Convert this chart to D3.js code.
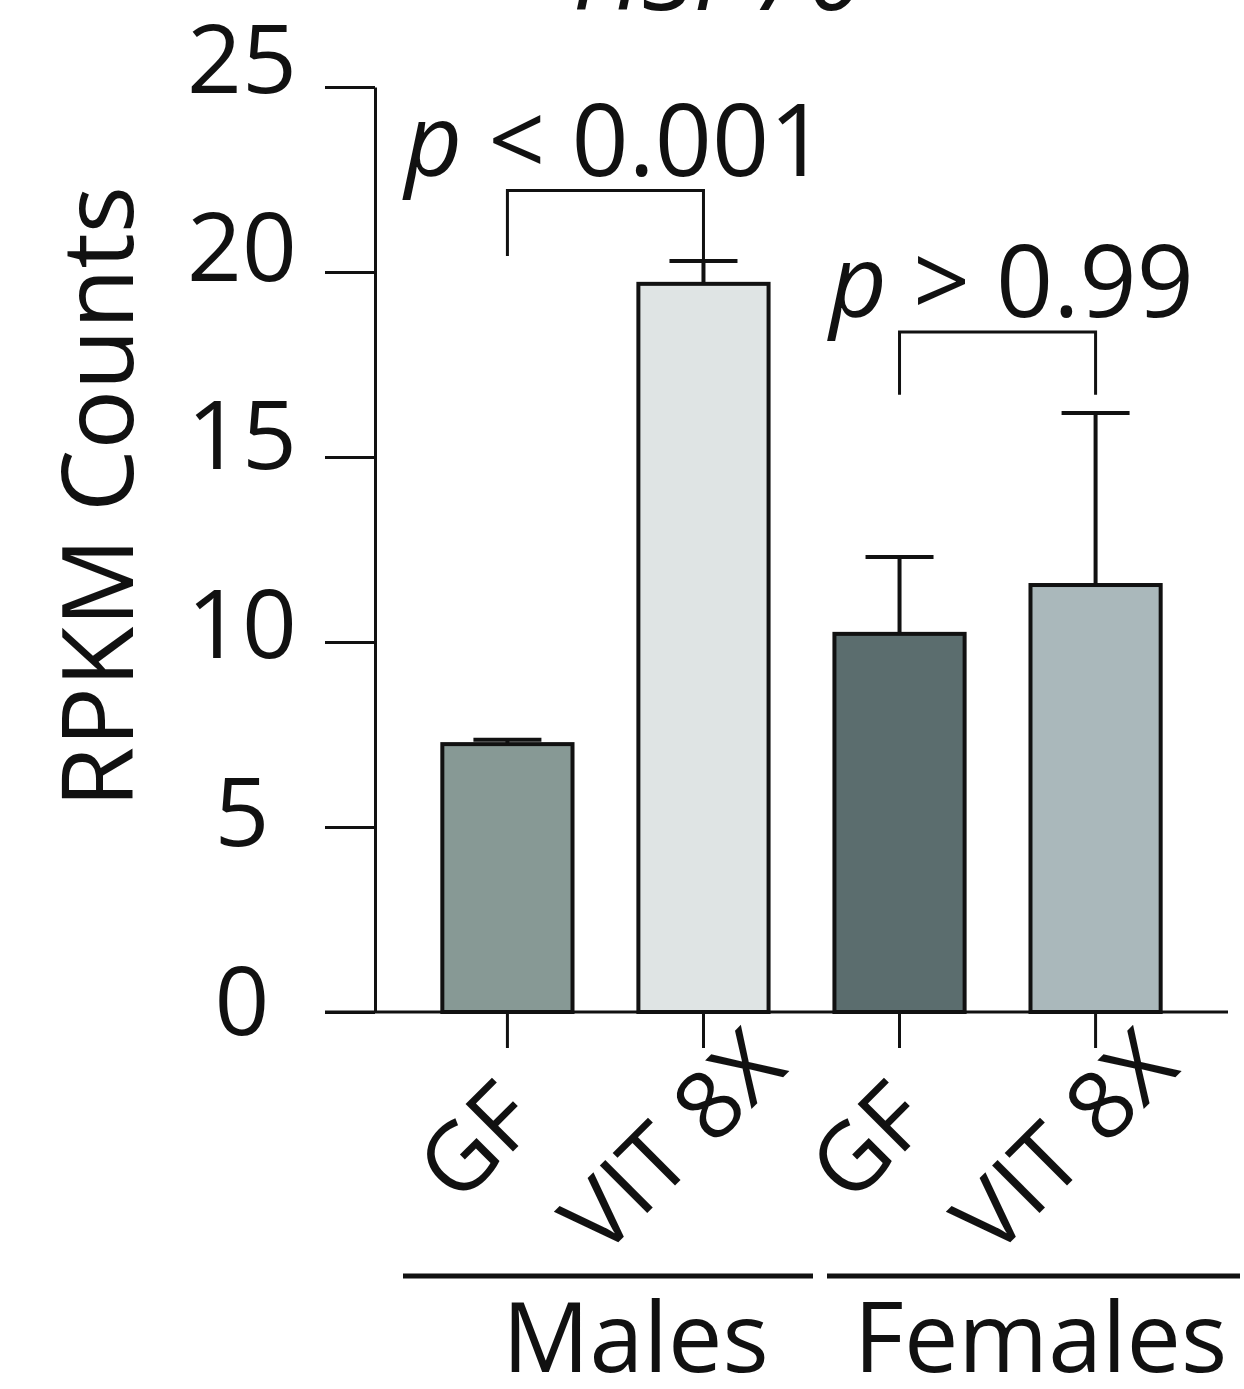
<!DOCTYPE html>
<html><head><meta charset="utf-8">
<script src="https://cdn.jsdelivr.net/npm/d3@7"></script>
<style>body{margin:0;background:#fff}svg{display:block}text{font-family:"Open Sans",sans-serif;fill:#111}</style>
</head><body>
<svg id="c" width="1244" height="1389"></svg>
<script>
const categories = ["M-GF","M-VIT","F-GF","F-VIT"];
const tickLabels = ["GF","VIT 8X","GF","VIT 8X"];
const means = [7.24, 19.68, 10.22, 11.54];
const errors = [0.12, 0.62, 2.08, 4.65];
const colors = ["#879995","#dfe4e4","#5b6d6e","#aab8bb"];
const groups = [{name:"Males", cats:["M-GF","M-VIT"]},{name:"Females", cats:["F-GF","F-VIT"]}];
const yTicks = [0,5,10,15,20,25];
const comparisons = [{a:"M-GF", b:"M-VIT", label:"p < 0.001", y:22.2, ya:20.43, yb:20.3},
                     {a:"F-GF", b:"F-VIT", label:"p > 0.99", y:18.38, ya:16.68, yb:16.68}];

const svg = d3.select("#c");
const y = d3.scaleLinear().domain([0,25]).range([1012,87]);
const x = d3.scaleBand().domain(categories).range([409,1194]).paddingInner(0.336).paddingOuter(0.17);

// title (cut off at top)
svg.append("text").attr("x",718).attr("y",10).attr("text-anchor","middle")
  .attr("font-size",102).attr("font-style","italic").text("HSP70");

// y axis
const yAxis = svg.append("g").attr("transform","translate(375,0)")
  .call(d3.axisLeft(y).tickValues(yTicks).tickSize(50).tickPadding(40).tickSizeOuter(0));
yAxis.select(".domain").attr("stroke","#111").attr("stroke-width",3);
yAxis.selectAll(".tick line").attr("stroke","#111").attr("stroke-width",3);
yAxis.selectAll(".tick text").attr("font-size",96).attr("text-anchor","middle").attr("x",-133)
  .attr("dy",d=>(-12 - d/25*17 + 34)+"px").style("font-family","Open Sans");

// x axis
const xAxis = svg.append("g").attr("transform","translate(0,1012)")
  .call(d3.axisBottom(x).tickSize(36).tickFormat((d,i)=>tickLabels[i]).tickSizeOuter(0));
xAxis.select(".domain").attr("d","M325,0H1228").attr("stroke","#111").attr("stroke-width",3);
xAxis.selectAll(".tick line").attr("stroke","#111").attr("stroke-width",3);
xAxis.selectAll(".tick text").attr("font-size",94).attr("text-anchor","middle")
  .attr("transform","translate(-8,153) rotate(-45)").attr("y",0).attr("x",0).attr("dy",0).style("font-family","Open Sans");

// error bars
const eb = svg.append("g");
categories.forEach((c,i)=>{
  const cx = x(c)+x.bandwidth()/2;
  eb.append("line").attr("x1",cx).attr("x2",cx).attr("y1",y(means[i])).attr("y2",y(means[i]+errors[i]))
    .attr("stroke","#111").attr("stroke-width",4);
  eb.append("line").attr("x1",cx-34).attr("x2",cx+34).attr("y1",y(means[i]+errors[i])).attr("y2",y(means[i]+errors[i]))
    .attr("stroke","#111").attr("stroke-width",4);
});

// bars
svg.append("g").selectAll("rect").data(categories).join("rect")
  .attr("x",d=>x(d)).attr("width",x.bandwidth())
  .attr("y",(d,i)=>y(means[i])).attr("height",(d,i)=>y(0)-y(means[i]))
  .attr("fill",(d,i)=>colors[i]).attr("stroke","#111").attr("stroke-width",4);

// comparisons
comparisons.forEach((cp,ci)=>{
  const xa = x(cp.a)+x.bandwidth()/2, xb = x(cp.b)+x.bandwidth()/2;
  svg.append("path").attr("d",`M${xa},${y(cp.ya)}V${y(cp.y)}H${xb}V${y(cp.yb)}`)
    .attr("fill","none").attr("stroke","#111").attr("stroke-width",3);
  const t = svg.append("text").attr("x",(xa+xb)/2+(ci===0?10:14)).attr("y",y(cp.y)-15).attr("text-anchor","middle").attr("font-size",100);
  const parts = cp.label.split(" ");
  t.append("tspan").attr("font-style","italic").text(parts[0]);
  t.append("tspan").text(" "+parts.slice(1).join(" "));
});

// group lines and labels
const gLines = [[403,813],[827,1240]];
groups.forEach((g,gi)=>{
  const [x0,x1] = gLines[gi];
  svg.append("line").attr("x1",x0).attr("x2",x1).attr("y1",1276).attr("y2",1276).attr("stroke","#111").attr("stroke-width",5);
  const cx = (x(g.cats[0]) + x(g.cats[1]) + x.bandwidth())/2;
  svg.append("text").attr("x",cx + (gi===0?30:43)).attr("y",1372).attr("text-anchor","middle").attr("font-size",97).text(g.name);
});

// y label
svg.append("text").attr("transform","translate(133,497) rotate(-90)").attr("text-anchor","middle")
  .attr("font-size",99).text("RPKM Counts");
</script>
</body></html>
